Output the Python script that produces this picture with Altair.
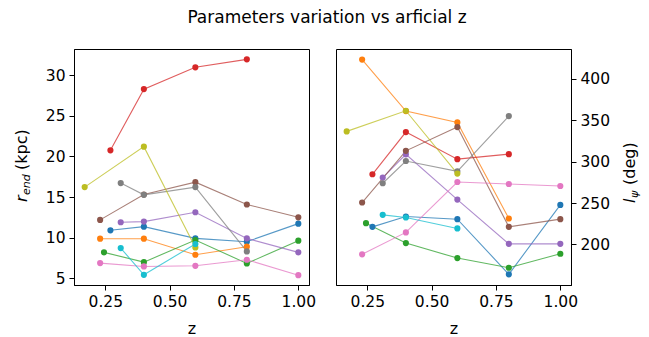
import altair as alt
import pandas as pd

# ---- data ----
series = ["s0", "s1", "s2", "s3", "s4", "s5", "s6", "s7", "s8", "s9"]
colors = ["#1f77b4", "#ff7f0e", "#2ca02c", "#d62728", "#9467bd",
          "#8c564b", "#e377c2", "#7f7f7f", "#bcbd22", "#17becf"]

z_vals = [
    [0.27, 0.4, 0.6, 0.8, 1.0],   # blue
    [0.23, 0.4, 0.6, 0.8],        # orange
    [0.245, 0.4, 0.6, 0.8, 1.0],  # green
    [0.27, 0.4, 0.6, 0.8],        # red
    [0.31, 0.4, 0.6, 0.8, 1.0],   # purple
    [0.23, 0.4, 0.6, 0.8, 1.0],   # brown
    [0.23, 0.4, 0.6, 0.8, 1.0],   # pink
    [0.31, 0.4, 0.6, 0.8],        # gray
    [0.17, 0.4, 0.6],             # olive
    [0.31, 0.4, 0.6],             # cyan
]
r_end = [
    [10.92, 11.37, 9.93, 9.52, 11.74],
    [9.89, 9.89, 7.92, 8.91],
    [8.21, 7.01, 9.73, 6.85, 9.65],
    [20.75, 28.27, 30.95, 31.93],
    [11.91, 11.99, 13.14, 9.93, 8.21],
    [12.2, 15.32, 16.84, 14.09, 12.52],
    [6.89, 6.48, 6.56, 7.3, 5.41],
    [16.72, 15.28, 16.23, 8.33],
    [16.23, 21.2, 8.82],
    [8.74, 5.45, 9.24],
]
l_psi = [
    [221.2, 233.7, 230.5, 163.9, 247.7],
    [423.2, 361.0, 347.3, 231.3],
    [225.7, 201.6, 183.5, 171.8, 188.7],
    [284.7, 335.7, 303.0, 309.0],
    [280.7, 308.8, 254.2, 200.7, 200.7],
    [250.6, 313.0, 341.7, 221.2, 230.5],
    [188.0, 214.5, 275.4, 273.0, 270.6],
    [273.9, 300.7, 288.3, 355.0],
    [336.5, 361.4, 285.5],
    [235.7, 232.5, 219.3],
]
x_ticks = [0.25, 0.5, 0.75, 1.0]
r_ticks = [5, 10, 15, 20, 25, 30]
l_ticks = [200, 250, 300, 350, 400]

title_text = "Parameters variation vs arficial z"

rows = []
for i, s in enumerate(series):
    for z, r, l in zip(z_vals[i], r_end[i], l_psi[i]):
        rows.append({"series": s, "idx": i, "z": z, "r": r, "l": l})
df = pd.DataFrame(rows)

FONT = "DejaVu Sans"
W, H = 235, 236

color = alt.Color("series:N", scale=alt.Scale(domain=series, range=colors), legend=None)
x_enc = alt.X("z:Q",
              scale=alt.Scale(domain=[0.1285, 1.0415], nice=False, zero=False),
              axis=alt.Axis(values=x_ticks, format=".2f", title="z", grid=False,
                            titlePadding=11))


def panel(field, domain, ticks, orient, t_pieces):
    y_enc = alt.Y(f"{field}:Q",
                  scale=alt.Scale(domain=domain, nice=False, zero=False),
                  axis=alt.Axis(values=ticks, title=None, grid=False, orient=orient))
    base = alt.Chart(df)
    lines = base.mark_line(strokeWidth=1.1, opacity=0.75).encode(
        x=x_enc, y=y_enc, color=color, order=alt.Order("z:Q"))
    pts = base.mark_circle(size=38, opacity=1).encode(x=x_enc, y=y_enc, color=color)
    layers = [lines, pts]
    for txt, px, py, fs, it in t_pieces:
        layers.append(
            alt.Chart(pd.DataFrame({"t": [txt]})).mark_text(
                angle=270, align="left", baseline="middle", font=FONT,
                fontSize=fs, fontStyle="italic" if it else "normal", color="black"
            ).encode(x=alt.value(px), y=alt.value(py), text="t:N")
        )
    return alt.layer(*layers).properties(width=W, height=H)


left = panel("r", [4.2, 33.2], r_ticks, "left",
             [("r", -52, 153, 16, True), ("end", -47, 146, 11, True),
              ("(kpc)", -52, 121, 16, False)])
right = panel("l", [151, 436], l_ticks, "right",
              [("l", 294, 154, 16, True), ("ψ", 299, 149, 11, True),
               ("(deg)", 294, 136, 16, False)])

chart = alt.hconcat(left, right, spacing=27, bounds="flush").properties(
    title=alt.TitleParams(title_text, font=FONT, fontSize=17, fontWeight="normal",
                          anchor="middle", color="black", offset=22),
    padding={"left": 13, "top": 8, "right": 2, "bottom": 0},
).configure_view(stroke="black", strokeWidth=1).configure_axis(
    domainColor="black", tickColor="black", tickSize=5, labelColor="black",
    labelFont=FONT, labelFontSize=15.5, labelPadding=4, titleFont=FONT,
    titleFontSize=16, titleFontWeight="normal", titleColor="black", domain=True
)

chart.save("out.html", embed_options={"renderer": "svg", "actions": False})
